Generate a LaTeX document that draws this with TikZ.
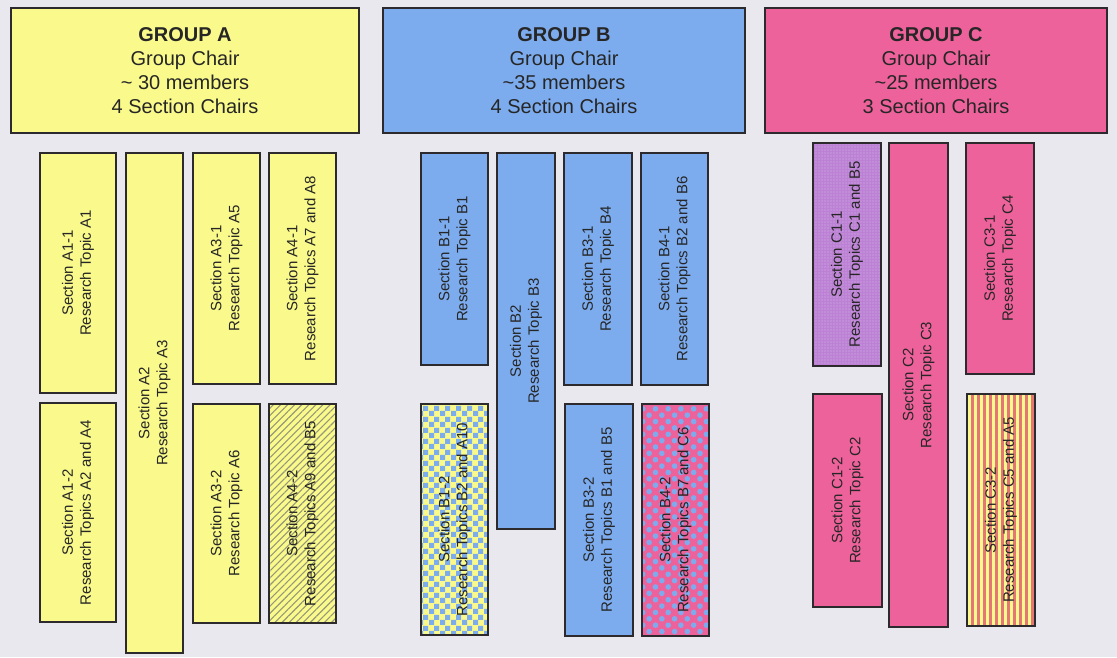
\documentclass[tikz,border=0pt]{standalone}
\usepackage{fontspec}
\setmainfont{Liberation Sans}
\usetikzlibrary{patterns,patterns.meta}
\definecolor{paper}{RGB}{233,232,238}
\definecolor{framegray}{RGB}{45,42,45}
\definecolor{ink}{RGB}{38,38,38}
\definecolor{yelA}{RGB}{250,250,140}
\definecolor{bluB}{RGB}{125,172,238}
\definecolor{pinkC}{RGB}{238,98,155}
\definecolor{purpC}{RGB}{188,128,212}
\definecolor{stripered}{RGB}{228,118,118}
\definecolor{hatchgray}{RGB}{150,150,120}
\tikzdeclarepattern{
 name=checkcells,type=uncolored,
 bounding box={(0pt,0pt) and (11pt,11pt)},
 tile size={(11pt,11pt)},
 code={\fill (0pt,0pt) rectangle (5.5pt,5.5pt); \fill (5.5pt,5.5pt) rectangle (11pt,11pt);}
}
\tikzset{
 grouphead/.style={draw=framegray,line width=1.3pt,minimum height=125pt,align=center,inner sep=0pt,
   font=\fontsize{20}{24}\selectfont,text=ink},
 section/.style={draw=framegray,line width=1.2pt,rotate=90,align=center,inner sep=0pt,
   font=\fontsize{15}{18}\selectfont,text=ink},
 reframe/.style={draw=framegray,line width=1.2pt},
 hatched/.style={postaction={pattern={Lines[angle=45,distance=5pt,line width=1.1pt]},pattern color=hatchgray,reframe}},
 checked/.style={postaction={pattern=checkcells,pattern color=bluB,reframe}},
 dotted pink/.style={postaction={pattern={Dots[angle=45,distance=9pt,radius=2.8pt]},pattern color=bluB,reframe}},
 speckled/.style={postaction={pattern={Dots[distance=3pt,radius=.6pt]},pattern color=purpC!55!white,reframe}},
 striped/.style={postaction={pattern={Lines[angle=90,distance=6pt,line width=3pt]},pattern color=stripered,reframe}}
}
\begin{document}
\begin{tikzpicture}[x=1pt,y=-1pt]
\fill[paper] (0,0) rectangle (1117,657);
\useasboundingbox (0,0) rectangle (1117,657);
% group headers
\node[grouphead,fill=yelA,minimum width=348pt] (groupA) at (185,70.5)
  {\textbf{GROUP A}\\Group Chair\\\textasciitilde\ 30 members\\4 Section Chairs};
\node[grouphead,fill=bluB,minimum width=362pt] (groupB) at (564,70.5)
  {\textbf{GROUP B}\\Group Chair\\\textasciitilde35 members\\4 Section Chairs};
\node[grouphead,fill=pinkC,minimum width=342pt] (groupC) at (936,70.5)
  {\textbf{GROUP C}\\Group Chair\\\textasciitilde25 members\\3 Section Chairs};
% group A sections
\node[section,fill=yelA,minimum width=240pt,minimum height=76pt] (secA11) at (78,273)
  {Section A1-1\\Research Topic A1};
\node[section,fill=yelA,minimum width=219pt,minimum height=76pt] (secA12) at (78,512.5)
  {Section A1-2\\Research Topics A2 and A4};
\node[section,fill=yelA,minimum width=500pt,minimum height=57pt] (secA2) at (154.5,403)
  {Section A2\\Research Topic A3};
\node[section,fill=yelA,minimum width=231pt,minimum height=67pt] (secA31) at (226.5,268.5)
  {Section A3-1\\Research Topic A5};
\node[section,fill=yelA,minimum width=219pt,minimum height=67pt] (secA32) at (226.5,513.5)
  {Section A3-2\\Research Topic A6};
\node[section,fill=yelA,minimum width=231pt,minimum height=67pt] (secA41) at (302.5,268.5)
  {Section A4-1\\Research Topics A7 and A8};
\node[section,fill=yelA,hatched,minimum width=219pt,minimum height=67pt] (secA42) at (302.5,513.5)
  {Section A4-2\\Research Topics A9 and B5};
% group B sections
\node[section,fill=bluB,minimum width=212pt,minimum height=67pt] (secB11) at (454.5,259)
  {Section B1-1\\Research Topic B1};
\node[section,fill=yelA,checked,minimum width=231pt,minimum height=67pt] (secB12) at (454.5,519.5)
  {Section B1-2\\Research Topics B2 and A10};
\node[section,fill=bluB,minimum width=376pt,minimum height=58pt] (secB2) at (526,341)
  {Section B2\\Research Topic B3};
\node[section,fill=bluB,minimum width=232pt,minimum height=68pt] (secB31) at (598,269)
  {Section B3-1\\Research Topic B4};
\node[section,fill=bluB,minimum width=232pt,minimum height=68pt] (secB32) at (599,520)
  {Section B3-2\\Research Topics B1 and B5};
\node[section,fill=bluB,minimum width=232pt,minimum height=67pt] (secB41) at (674.5,269)
  {Section B4-1\\Research Topics B2 and B6};
\node[section,fill=pinkC,dotted pink,minimum width=232pt,minimum height=67pt] (secB42) at (675.5,520)
  {Section B4-2\\Research Topics B7 and C6};
% group C sections
\node[section,fill=purpC,speckled,minimum width=223pt,minimum height=68pt] (secC11) at (847,254.5)
  {Section C1-1\\Research Topics C1 and B5};
\node[section,fill=pinkC,minimum width=213pt,minimum height=69pt] (secC12) at (847.5,500.5)
  {Section C1-2\\Research Topic C2};
\node[section,fill=pinkC,minimum width=484pt,minimum height=59pt] (secC2) at (918.5,385)
  {Section C2\\Research Topic C3};
\node[section,fill=pinkC,minimum width=231pt,minimum height=68pt] (secC31) at (1000,258.5)
  {Section C3-1\\Research Topic C4};
\node[section,fill=yelA,striped,minimum width=232pt,minimum height=68pt] (secC32) at (1001,510)
  {Section C3-2\\Research Topics C5 and A5};
\end{tikzpicture}
\end{document}
